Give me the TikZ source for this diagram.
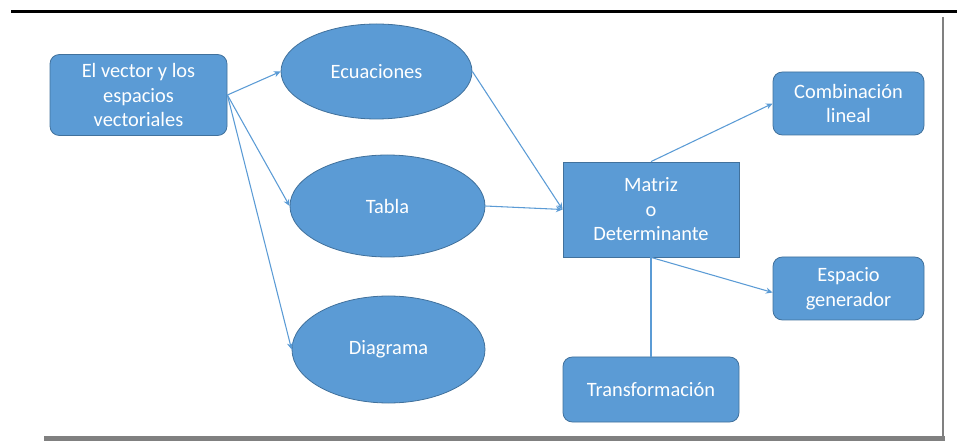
\documentclass[tikz,border=0pt]{standalone}
\usepackage{fontspec}
\setmainfont{Carlito}
\usetikzlibrary{shapes.geometric,arrows.meta}
\definecolor{officeblue}{HTML}{5B9BD5}
\definecolor{officeedge}{HTML}{41719C}
\definecolor{framegray}{HTML}{808080}

\begin{document}
\begin{tikzpicture}[
x=0.75pt,y=-0.75pt,
cell/.style={draw=officeedge,fill=officeblue,line width=0.6pt,text=white,align=center,inner sep=2pt,font=\fontsize{15.3}{18.4}\selectfont},
box/.style={cell,rounded corners=7pt},
oval/.style={cell,ellipse,inner sep=0pt},
link/.style={draw=officeblue,line width=0.8pt,-{Stealth[length=5pt,width=4.5pt]}}
]
\useasboundingbox (0,0) rectangle (957,445);
\draw[line width=2.25pt,black] (11,11.5) -- (957,11.5);
\draw[line width=1.9pt,framegray] (943,17) -- (943,441);
\draw[line width=3.75pt,framegray] (44,438.5) -- (945,438.5);
\node[box,minimum width=132.75pt,minimum height=60.75pt] (vec) at (138.5,95) {El vector y los\\espacios\\vectoriales};
\node[oval,minimum width=143.25pt,minimum height=71.25pt] (ecu) at (376.5,71.5) {Ecuaciones};
\node[oval,minimum width=146.25pt,minimum height=76.5pt] (tab) at (387.5,206) {Tabla};
\node[oval,minimum width=144.75pt,minimum height=80.25pt] (dia) at (388.5,349.5) {Diagrama};
\node[cell,minimum width=132pt,minimum height=71.25pt] (mat) at (651,209.5) {Matriz\\o\\Determinante};
\node[box,minimum width=113.25pt,minimum height=47.25pt] (com) at (848.5,103.5) {Combinación\\lineal};
\node[box,minimum width=113.25pt,minimum height=47.25pt] (esp) at (848.5,288.5) {Espacio\\generador};
\node[box,minimum width=132pt,minimum height=48.75pt] (tra) at (651,389.5) {Transformación};
\draw[link] (vec.east) -- (ecu.west);
\draw[link] (vec.east) -- (tab.west);
\draw[link] (vec.east) -- (dia.west);
\draw[link] (ecu.east) -- (mat.west);
\draw[link] (tab.east) -- (mat.west);
\draw[link] (mat.north) -- (com.west);
\draw[link] (mat.south) -- ([yshift=-3pt]esp.west);
\draw[draw=officeblue,line width=0.8pt] (mat.south) -- (tra.north);
\end{tikzpicture}
\end{document}
